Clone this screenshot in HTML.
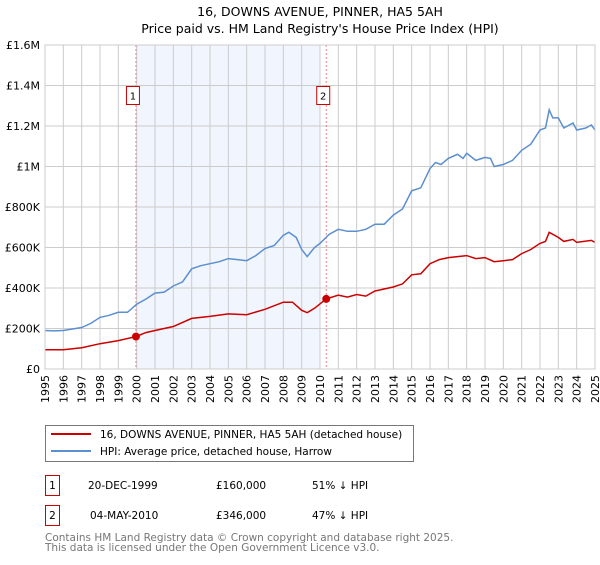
<!DOCTYPE html>
<html><head><meta charset="utf-8"><style>
body{margin:0;background:#fff;font-family:"Liberation Sans","DejaVu Sans",sans-serif;}
</style></head><body>
<svg width="600" height="560" xmlns="http://www.w3.org/2000/svg" font-family="DejaVu Sans, Liberation Sans, sans-serif">
<text x="320" y="16" text-anchor="middle" font-size="12.5">16, DOWNS AVENUE, PINNER, HA5 5AH</text>
<text x="320" y="33" text-anchor="middle" font-size="12.5">Price paid vs. HM Land Registry's House Price Index (HPI)</text>
<g id="plot"></g>
<g>
<rect x="45.5" y="425.5" width="368" height="36" fill="#fff" stroke="#777"/>
<line x1="51" y1="434" x2="91" y2="434" stroke="#cc0000" stroke-width="2"/>
<text x="100" y="438" font-size="10.5">16, DOWNS AVENUE, PINNER, HA5 5AH (detached house)</text>
<line x1="51" y1="451" x2="91" y2="451" stroke="#5b8fd0" stroke-width="2"/>
<text x="100" y="455" font-size="10.5">HPI: Average price, detached house, Harrow</text>
</g>
<g font-size="10.5">
<rect x="45.5" y="475.5" width="14" height="20" fill="#fff" stroke="#cc0000"/>
<text x="52.5" y="489" text-anchor="middle">1</text>
<text x="88" y="489">20-DEC-1999</text><text x="216" y="489">£160,000</text><text x="312" y="489">51% ↓ HPI</text>
<rect x="45.5" y="505.5" width="14" height="20" fill="#fff" stroke="#cc0000"/>
<text x="52.5" y="519" text-anchor="middle">2</text>
<text x="90" y="519">04-MAY-2010</text><text x="216" y="519">£346,000</text><text x="312" y="519">47% ↓ HPI</text>
</g>
<text x="45" y="541" font-size="10.5" fill="#777">Contains HM Land Registry data © Crown copyright and database right 2025.</text>
<text x="45" y="551" font-size="10.5" fill="#777">This data is licensed under the Open Government Licence v3.0.</text>
</svg>
<script>
const yTicks=[0,200,400,600,800,1000,1200,1400,1600];
const yTickLabels=["£0","£200K","£400K","£600K","£800K","£1M","£1.2M","£1.4M","£1.6M"];
const years=[1995,1996,1997,1998,1999,2000,2001,2002,2003,2004,2005,2006,2007,2008,2009,2010,2011,2012,2013,2014,2015,2016,2017,2018,2019,2020,2021,2022,2023,2024,2025];
const hpiX=[1995,1995.5,1996,1997,1997.5,1998,1998.5,1999,1999.5,2000,2000.5,2001,2001.5,2002,2002.5,2003,2003.5,2004,2004.5,2005,2005.5,2006,2006.5,2007,2007.5,2008,2008.3,2008.7,2009,2009.3,2009.7,2010,2010.5,2011,2011.5,2012,2012.5,2013,2013.5,2014,2014.5,2015,2015.5,2016,2016.3,2016.6,2017,2017.5,2017.8,2018,2018.5,2019,2019.3,2019.5,2020,2020.5,2021,2021.5,2022,2022.3,2022.5,2022.7,2023,2023.3,2023.8,2024,2024.5,2024.8,2025];
const hpiY=[190,188,190,205,225,255,265,280,280,320,345,375,380,410,430,495,510,520,530,545,540,535,560,595,610,660,675,650,590,555,600,620,665,690,680,680,690,715,715,760,790,880,895,990,1020,1010,1040,1060,1040,1065,1030,1045,1040,1000,1010,1030,1080,1110,1180,1190,1280,1240,1240,1190,1215,1180,1190,1205,1180];
const propX=[1995,1996,1997,1998,1999,1999.96,2000.5,2001,2002,2003,2004,2005,2006,2007,2008,2008.5,2009,2009.3,2009.7,2010.34,2011,2011.5,2012,2012.5,2013,2014,2014.5,2015,2015.5,2016,2016.5,2017,2017.5,2018,2018.5,2019,2019.5,2020,2020.5,2021,2021.5,2022,2022.3,2022.5,2023,2023.3,2023.8,2024,2024.8,2025];
const propY=[95,95,105,125,140,160,180,190,210,250,260,272,268,295,330,330,290,278,300,346,365,355,368,360,385,405,420,465,470,520,540,550,555,560,545,550,530,535,540,570,590,620,630,675,650,630,640,625,635,625];
const saleX=[1999.96,2010.34];
const saleY=[160,346];
const saleLabels=["1","2"];
const shadeRange=[1999.96,2010.0];
const L=45,R=595,T=45,B=369;
const xs=v=>L+(v-1995)/30*(R-L);
const ys=v=>B-v/1600*(B-T);
const NS="http://www.w3.org/2000/svg";
const g=document.getElementById('plot');
function mk(t,a,p){const e=document.createElementNS(NS,t);for(const k in a)e.setAttribute(k,a[k]);(p||g).appendChild(e);return e;}
const sh=mk('rect',{x:xs(shadeRange[0]),y:T,width:xs(shadeRange[1])-xs(shadeRange[0]),height:B-T,fill:'#eef3fc',opacity:0.8});


years.forEach(y=>{const l=mk('line',{x1:xs(y),x2:xs(y),y1:T,y2:B,stroke:'#ccc'});


const t=mk('text',{x:0,y:0,transform:`translate(${xs(y)+4},${B+6}) rotate(-90)`,'text-anchor':'end','font-size':'11'});t.textContent=y;

});
yTicks.forEach((v,i)=>{const l=mk('line',{x1:L,x2:R,y1:ys(v),y2:ys(v),stroke:'#ccc'});


const t=mk('text',{x:L-5,y:ys(v)+4,'text-anchor':'end','font-size':'11'});t.textContent=yTickLabels[i];

});
saleX.forEach((v,i)=>{const l=mk('line',{x1:xs(v),x2:xs(v),y1:T,y2:B,stroke:'#f08080','stroke-dasharray':'2,2'});


const r=mk('rect',{x:xs(v)-9.5,y:86.5,width:13,height:18,fill:'#fff',stroke:'#cc0000'});


const t=mk('text',{x:xs(v)-3,y:99.5,'text-anchor':'middle','font-size':'10'});t.textContent=saleLabels[i];

});
const path=(X,Y)=>X.map((x,i)=>(i?'L':'M')+xs(x).toFixed(1)+','+ys(Y[i]).toFixed(1)).join('');
const hp=mk('path',{d:path(hpiX,hpiY),fill:'none',stroke:'#5b8fd0','stroke-width':1.5});


const pp=mk('path',{d:path(propX,propY),fill:'none',stroke:'#cc0000','stroke-width':1.5});


saleX.forEach((v,i)=>{const c=mk('circle',{cx:xs(v),cy:ys(saleY[i]),r:4,fill:'#cc0000'});

});
const ax=mk('rect',{x:L,y:T,width:R-L,height:B-T,fill:'none',stroke:'#ccc'});


</script>
</body></html>
